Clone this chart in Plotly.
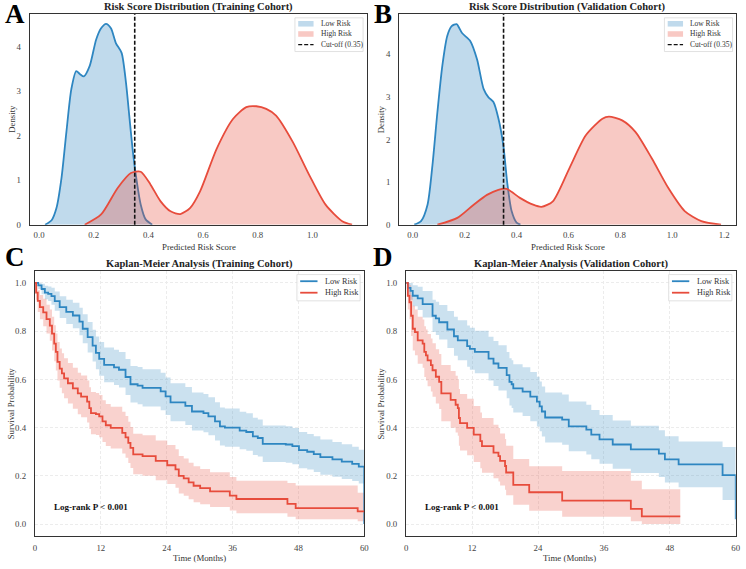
import plotly.graph_objects as go

W, H = 746, 569

# ---------------- data ----------------
CUTOFF = 0.35

# Panel A: KDE of predicted risk score (training cohort)
A_low_x = [0.022, 0.046, 0.064, 0.082, 0.10, 0.118, 0.136, 0.150, 0.164, 0.185, 0.209, 0.227,
           0.245, 0.263, 0.281, 0.302, 0.318, 0.330, 0.342, 0.354, 0.372, 0.390, 0.414]
A_low_y = [0.0, 0.10, 0.38, 1.04, 2.08, 3.04, 3.45, 3.38, 3.33, 3.56, 4.16, 4.41,
           4.51, 4.41, 4.08, 3.86, 3.19, 2.45, 1.71, 1.12, 0.45, 0.12, 0.0]
A_high_x = [0.167, 0.227, 0.287, 0.336, 0.372, 0.408, 0.444, 0.481, 0.517, 0.553, 0.589,
            0.65, 0.71, 0.758, 0.795, 0.831, 0.867, 0.928, 0.988, 1.048, 1.109, 1.145]
A_high_y = [0.0, 0.23, 0.82, 1.16, 1.19, 0.9, 0.53, 0.3, 0.24, 0.38, 0.75,
            1.71, 2.38, 2.64, 2.66, 2.6, 2.45, 1.86, 1.12, 0.45, 0.08, 0.0]

# Panel B: KDE of predicted risk score (validation cohort)
B_low_x = [0.006, 0.032, 0.057, 0.076, 0.095, 0.114, 0.133, 0.150, 0.169, 0.19, 0.222,
           0.248, 0.273, 0.292, 0.311, 0.33, 0.349, 0.365, 0.381, 0.40, 0.415]
B_low_y = [0.0, 0.085, 0.47, 1.4, 2.64, 3.73, 4.43, 4.66, 4.71, 4.5, 4.31,
           3.88, 3.19, 2.99, 2.88, 2.5, 1.87, 0.94, 0.32, 0.05, 0.0]
B_high_x = [0.095, 0.172, 0.235, 0.286, 0.33, 0.362, 0.413, 0.464, 0.496, 0.54, 0.604,
            0.667, 0.731, 0.756, 0.807, 0.858, 0.921, 0.985, 1.048, 1.112, 1.188]
B_high_y = [0.0, 0.16, 0.47, 0.7, 0.82, 0.84, 0.63, 0.47, 0.42, 0.55, 1.33,
            2.1, 2.49, 2.54, 2.45, 2.18, 1.56, 0.86, 0.32, 0.085, 0.0]

# Panel C: Kaplan-Meier, training cohort
C_low_t = [0, 0.6, 1.2, 1.8, 2.4, 3.0, 3.6, 4.5, 5.7, 6.9, 8.1, 8.7, 9.6, 10.5, 11.1,
           11.7, 12.6, 14.4, 15.3, 16.5, 17.4, 18.7, 19.6, 22.9, 23.8, 24.7, 27.4, 28.6,
           30.7, 31.6, 32.8, 33.7, 34.6, 37.3, 38.5, 39.7, 40.6, 41.5, 45.7, 46.9, 48.1,
           49.6, 50.8, 52.0, 54.2, 55.9, 57.8, 59.0, 60.0]
C_low_s = [1.0, .99, .975, .96, .955, .945, .925, .90, .88, .865, .84, .81, .775, .74, .71,
           .685, .66, .65, .64, .61, .58, .574, .565, .55, .53, .505, .49, .467,
           .46, .447, .426, .405, .40, .388, .382, .364, .357, .333, .33, .323, .307,
           .30, .29, .278, .268, .259, .25, .238, 0.0]
C_low_lo = [1.0, .975, .953, .932, .925, .91, .885, .855, .83, .812, .783, .75, .712, .674, .642,
            .615, .588, .577, .566, .535, .504, .497, .488, .472, .452, .426, .411, .388,
            .381, .368, .347, .326, .321, .31, .304, .287, .28, .257, .254, .248, .232,
            .226, .216, .205, .196, .187, .179, .168, .168]
C_low_hi = [1.0, 1.0, .997, .988, .985, .98, .965, .945, .93, .918, .897, .87, .838, .806, .778,
            .755, .732, .723, .714, .685, .656, .651, .642, .628, .608, .584, .569, .546,
            .539, .526, .505, .484, .479, .466, .46, .441, .434, .409, .406, .398, .382,
            .374, .364, .351, .34, .331, .321, .308, .308]

C_high_t = [0, 0.2, 0.5, 0.9, 1.5, 2.1, 2.7, 3.1, 3.5, 3.8, 4.1, 4.5, 4.9, 5.3, 6.0,
            6.9, 7.8, 8.4, 9.5, 9.9, 10.2, 11.1, 11.7, 12.3, 12.9, 13.8, 15.9, 16.5, 17.0, 17.4,
            17.9, 19.6, 22.0, 24.1, 25.6, 26.2, 27.1, 28.0, 28.9, 30.1, 31.9, 35.5, 36.7, 46.0, 47.5,
            58.8, 60.0]
C_high_s = [1.0, .96, .926, .90, .878, .85, .823, .79, .748, .714, .673, .645, .625, .604, .584,
            .563, .542, .529, .508, .481, .46, .456, .447, .426, .41, .399, .378, .36, .337, .316,
            .289, .282, .262, .244, .227, .20, .19, .173, .159, .149, .136, .118, .104, .084, .066,
            .053, .053]
C_high_lo = [1.0, .93, .88, .85, .82, .79, .76, .72, .675, .637, .595, .565, .543, .522, .50,
             .478, .456, .443, .421, .394, .373, .369, .36, .34, .324, .313, .293, .275, .253, .233,
             .207, .2, .182, .166, .151, .127, .118, .103, .091, .082, .071, .056, .045, .03, .02,
             .012, .012]
C_high_hi = [1.0, .99, .97, .95, .935, .91, .89, .86, .825, .79, .755, .728, .708, .688, .668,
             .648, .628, .616, .595, .568, .548, .544, .535, .514, .498, .487, .466, .448, .424, .403,
             .375, .368, .347, .328, .31, .282, .272, .254, .24, .228, .215, .195, .18, .17, .16,
             .13, .13]

# Panel D: Kaplan-Meier, validation cohort
D_low_t = [0, 0.3, 0.8, 1.2, 2.1, 3.0, 4.8, 5.4, 6.0, 7.5, 8.7, 9.4, 11.1, 11.6, 12.5, 15.0,
           15.9, 16.8, 18.3, 18.8, 19.2, 19.5, 21.2, 22.6, 23.8, 24.3, 24.7, 25.3, 28.4, 29.6,
           32.8, 33.7, 35.2, 37.6, 40.9, 46.0, 47.1, 49.6, 57.6, 60.0]
D_low_s = [1.0, .98, .967, .947, .936, .912, .864, .853, .837, .807, .779, .762, .738, .727, .714, .686,
           .666, .648, .618, .59, .58, .563, .549, .529, .508, .488, .467, .442, .433, .405,
           .392, .371, .351, .33, .31, .292, .268, .248, .203, .02]
D_low_lo = [1.0, .952, .93, .903, .888, .857, .797, .784, .765, .73, .698, .679, .652, .64, .626, .595,
            .573, .554, .522, .492, .481, .463, .448, .427, .405, .385, .363, .338, .329, .302,
            .289, .269, .25, .23, .212, .195, .172, .153, .1, .1]
D_low_hi = [1.0, 1.0, 1.0, .99, .984, .967, .93, .922, .909, .884, .86, .845, .824, .814, .802, .777,
            .759, .742, .714, .688, .679, .663, .65, .631, .611, .591, .571, .546, .537, .508,
            .495, .473, .452, .43, .408, .389, .364, .343, .32, .32]

D_high_t = [0, 0.3, 0.6, 0.9, 1.2, 1.6, 2.1, 3.0, 3.3, 3.6, 3.9, 4.5, 4.8, 5.4, 6.0, 6.4,
            8.1, 9.0, 9.4, 9.6, 9.8, 11.1, 12.3, 13.5, 13.8, 15.9, 16.8, 17.1, 18.0, 18.2,
            19.5, 22.4, 28.4, 40.9, 42.9, 49.9]
D_high_s = [1.0, .947, .92, .864, .81, .796, .762, .748, .714, .70, .679, .659, .638, .611, .59, .542,
            .515, .495, .481, .44, .419, .399, .371, .344, .323, .296, .282, .262, .241, .214,
            .163, .132, .097, .063, .032, .032]
D_high_lo = [1.0, .89, .85, .78, .72, .70, .665, .648, .61, .595, .572, .55, .528, .50, .477, .427,
             .40, .38, .366, .325, .305, .285, .258, .232, .213, .19, .177, .16, .142, .12,
             .08, .055, .03, .012, .0, .0]
D_high_hi = [1.0, 1.0, .99, .95, .905, .89, .86, .848, .82, .807, .788, .77, .75, .725, .705, .66,
             .635, .615, .60, .56, .54, .52, .49, .463, .44, .412, .398, .376, .353, .325,
             .27, .24, .22, .18, .145, .145]

X_TICKS_A = [0.0, 0.2, 0.4, 0.6, 0.8, 1.0]
X_TICKS_B = [0.0, 0.2, 0.4, 0.6, 0.8, 1.0, 1.2]
Y_TICKS_DENS = [0, 1, 2, 3, 4]
X_TICKS_KM = [0, 12, 24, 36, 48, 60]
Y_TICKS_KM = [0.0, 0.2, 0.4, 0.6, 0.8, 1.0]

# ---------------- style ----------------
FONT = "Liberation Serif"
BLUE = "#2E86C1"
RED = "#E74C3C"
BLUE_FILL = "rgba(46,134,193,0.30)"
RED_FILL = "rgba(231,76,60,0.30)"
BLUE_BAND = "rgba(46,134,193,0.25)"
RED_BAND = "rgba(231,76,60,0.25)"
FRAME = "#333333"
TICKC = "#444444"


def px(x):
    return x / W


def py(y):
    return 1 - y / H


fig = go.Figure()


def add_density(x, y, color, fill, xa, ya):
    fig.add_trace(go.Scatter(
        x=x, y=y, mode="lines", fill="tozeroy", fillcolor=fill,
        line=dict(color=color, width=1.8, shape="spline", smoothing=0.7),
        showlegend=False, hoverinfo="skip", xaxis=xa, yaxis=ya))


add_density(A_low_x, A_low_y, BLUE, BLUE_FILL, "x", "y")
add_density(A_high_x, A_high_y, RED, RED_FILL, "x", "y")
add_density(B_low_x, B_low_y, BLUE, BLUE_FILL, "x2", "y2")
add_density(B_high_x, B_high_y, RED, RED_FILL, "x2", "y2")


def add_band(t, lo, hi, fill, xa, ya):
    fig.add_trace(go.Scatter(x=t, y=lo, mode="lines", line=dict(width=0, shape="hv"),
                             showlegend=False, hoverinfo="skip", xaxis=xa, yaxis=ya))
    fig.add_trace(go.Scatter(x=t, y=hi, mode="lines", line=dict(width=0, shape="hv"),
                             fill="tonexty", fillcolor=fill,
                             showlegend=False, hoverinfo="skip", xaxis=xa, yaxis=ya))


def add_km(t, s, color, xa, ya):
    fig.add_trace(go.Scatter(x=t, y=s, mode="lines", line=dict(color=color, width=1.8, shape="hv"),
                             showlegend=False, hoverinfo="skip", xaxis=xa, yaxis=ya))


add_band(C_low_t, C_low_lo, C_low_hi, BLUE_BAND, "x3", "y3")
add_band(C_high_t, C_high_lo, C_high_hi, RED_BAND, "x3", "y3")
add_km(C_low_t, C_low_s, BLUE, "x3", "y3")
add_km(C_high_t, C_high_s, RED, "x3", "y3")

add_band(D_low_t, D_low_lo, D_low_hi, BLUE_BAND, "x4", "y4")
add_band(D_high_t, D_high_lo, D_high_hi, RED_BAND, "x4", "y4")
add_km(D_low_t, D_low_s, BLUE, "x4", "y4")
add_km(D_high_t, D_high_s, RED, "x4", "y4")

axis_common = dict(showline=True, mirror=True, linecolor=FRAME, linewidth=1.3,
                   ticks="", zeroline=False, showgrid=False,
                   tickfont=dict(family=FONT, size=8.8, color=TICKC))
km_grid = dict(showgrid=True, gridcolor="#ececec", gridwidth=0.7, griddash="3px,2px")

layout = dict(
    width=W, height=H, margin=dict(l=0, r=0, t=0, b=0),
    paper_bgcolor="white", plot_bgcolor="white", showlegend=False,
    font=dict(family=FONT, color="#333"),
    xaxis=dict(axis_common, domain=[px(28), px(368.3)], range=[-0.034, 1.199],
               tickvals=X_TICKS_A, tickformat=".1f", anchor="y", ticklabelstandoff=2),
    yaxis=dict(axis_common, domain=[py(226.7), py(14)], range=[0, 4.735],
               tickvals=Y_TICKS_DENS, anchor="x", ticklabelstandoff=6),
    xaxis2=dict(axis_common, domain=[px(401), px(741.3)], range=[-0.052, 1.247],
                tickvals=X_TICKS_B, tickformat=".1f", anchor="y2", ticklabelstandoff=2),
    yaxis2=dict(axis_common, domain=[py(226.7), py(14)], range=[0, 4.95],
                tickvals=Y_TICKS_DENS, anchor="x2", ticklabelstandoff=6),
    xaxis3=dict(axis_common, **km_grid, domain=[px(33.3), px(365.7)], range=[0, 60],
                tickvals=X_TICKS_KM, anchor="y3", ticklabelstandoff=3),
    yaxis3=dict(axis_common, **km_grid, domain=[py(540.9), py(273.3)], range=[-0.05, 1.05],
                tickvals=Y_TICKS_KM, tickformat=".1f", anchor="x3", ticklabelstandoff=6),
    xaxis4=dict(axis_common, **km_grid, domain=[px(408), px(740.7)], range=[0, 60],
                tickvals=X_TICKS_KM, anchor="y4", ticklabelstandoff=3),
    yaxis4=dict(axis_common, **km_grid, domain=[py(540.9), py(273.3)], range=[-0.05, 1.05],
                tickvals=Y_TICKS_KM, tickformat=".1f", anchor="x4", ticklabelstandoff=6),
)
fig.update_layout(**layout)

shapes = []
annotations = []

# cut-off lines
for xr, yr in [("x", "y domain"), ("x2", "y2 domain")]:
    shapes.append(dict(type="line", xref=xr, yref=yr, x0=CUTOFF, x1=CUTOFF, y0=0, y1=1,
                       line=dict(color="#111", width=1.6, dash="4px,2px")))


def text(x, y, s, size, bold=False, xanchor="center", angle=0, color="#222"):
    annotations.append(dict(x=px(x), y=py(y), xref="paper", yref="paper", text=("<b>%s</b>" % s) if bold else s,
                            showarrow=False, xanchor=xanchor, yanchor="middle", textangle=angle,
                            font=dict(family=FONT, size=size, color=color)))


# titles
text(198.5, 7, "Risk Score Distribution (Training Cohort)", 10.5, bold=True)
text(571, 7, "Risk Score Distribution (Validation Cohort)", 10.5, bold=True)
text(199.5, 266, "Kaplan-Meier Analysis (Training Cohort)", 10.5, bold=True)
text(574, 266, "Kaplan-Meier Analysis (Validation Cohort)", 10.5, bold=True)

# panel letters
text(13, 14, "A", 27, bold=True, color="#000")
text(384.5, 14, "B", 27, bold=True, color="#000")
text(13.5, 259, "C", 27, bold=True, color="#000")
text(384.5, 259, "D", 27, bold=True, color="#000")

# axis titles
text(10, 120, "Density", 8.8, angle=-90, color="#333")
text(383, 120, "Density", 8.8, angle=-90, color="#333")
text(198.8, 249.5, "Predicted Risk Score", 8.8, color="#333")
text(571.8, 249.5, "Predicted Risk Score", 8.8, color="#333")
text(9.3, 406.7, "Survival Probability", 8.8, angle=-90, color="#333")
text(383, 406.7, "Survival Probability", 8.8, angle=-90, color="#333")
text(199, 562.5, "Time (Months)", 8.8, color="#333")
text(573, 562.5, "Time (Months)", 8.8, color="#333")

# log-rank annotations
text(50, 511.7, "Log-rank P < 0.001", 9, bold=True, xanchor="left", color="#111")
text(425.3, 511.7, "Log-rank P < 0.001", 9, bold=True, xanchor="left", color="#111")


def legend_box(x0, x1, y0, y1):
    shapes.append(dict(type="rect", xref="paper", yref="paper", x0=px(x0), x1=px(x1), y0=py(y1), y1=py(y0),
                       line=dict(color="#d9d9d9", width=0.8), fillcolor="rgba(255,255,255,0.85)", layer="above"))


def density_legend(dx):
    legend_box(295.7 + dx, 364.5 + dx, 18, 52)
    for yc, fill in [(24, BLUE_FILL), (34.3, RED_FILL)]:
        shapes.append(dict(type="rect", xref="paper", yref="paper", x0=px(299 + dx), x1=px(314.5 + dx),
                           y0=py(yc + 2.8), y1=py(yc - 2.8), line=dict(width=0), fillcolor=fill, layer="above"))
    shapes.append(dict(type="line", xref="paper", yref="paper", x0=px(299 + dx), x1=px(314.5 + dx),
                       y0=py(45), y1=py(45), line=dict(color="#111", width=1.4, dash="4px,2px"), layer="above"))
    text(320 + dx, 24, "Low Risk", 7.5, xanchor="left", color="#333")
    text(320 + dx, 34.3, "High Risk", 7.5, xanchor="left", color="#333")
    text(320 + dx, 45, "Cut-off (0.35)", 7.5, xanchor="left", color="#333")


def km_legend(dx):
    legend_box(297.7 + dx, 361.5 + dx, 277, 303.5)
    for yc, col in [(283.7, BLUE), (295.3, RED)]:
        shapes.append(dict(type="line", xref="paper", yref="paper", x0=px(301 + dx), x1=px(318.5 + dx),
                           y0=py(yc), y1=py(yc), line=dict(color=col, width=1.8), layer="above"))
    text(324 + dx, 283.7, "Low Risk", 8.2, xanchor="left", color="#333")
    text(324 + dx, 295.3, "High Risk", 8.2, xanchor="left", color="#333")


density_legend(0)
density_legend(373)
km_legend(0)
km_legend(375.3)

fig.update_layout(shapes=shapes, annotations=annotations)
fig.write_html("out.html")
